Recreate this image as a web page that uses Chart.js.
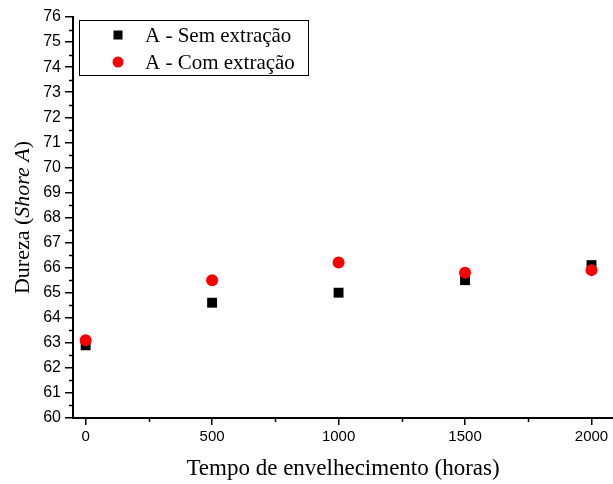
<!DOCTYPE html>
<html><head><meta charset="utf-8">
<script src="https://cdn.jsdelivr.net/npm/chart.js@4"></script>
<style>html,body{margin:0;padding:0;background:#fff}#wrap{width:613px;height:484px}</style>
</head><body><div id="wrap"><canvas id="c" width="613" height="484"></canvas></div>
<script>
const hours = [0, 500, 1000, 1500, 2000];
const semExtracao = [62.9, 64.6, 65.0, 65.5, 66.1];
const comExtracao = [63.1, 65.5, 66.2, 65.8, 65.9];
const seriesLabels = ['A - Sem extração', 'A - Com extração'];
const xTicks = [0, 500, 1000, 1500, 2000];
const xMinorTicks = [250, 750, 1250, 1750];
const yTicks = [60, 61, 62, 63, 64, 65, 66, 67, 68, 69, 70, 71, 72, 73, 74, 75, 76];
const yMinorTicks = [60.5, 61.5, 62.5, 63.5, 64.5, 65.5, 66.5, 67.5, 68.5, 69.5, 70.5, 71.5, 72.5, 73.5, 74.5, 75.5];
const xTitle = 'Tempo de envelhecimento (horas)';
const yTitleParts = [['Dureza (', false], ['Shore A', true], [')', false]];

const SERIF = '"Liberation Serif", "Times New Roman", serif';
const SANS = '"Liberation Sans", Arial, sans-serif';

const decor = {
  id: 'decor',
  afterDraw(chart) {
    const ctx = chart.ctx;
    const xs = chart.scales.x, ys = chart.scales.y;
    const area = chart.chartArea;
    ctx.save();
    ctx.strokeStyle = '#000';
    ctx.lineWidth = 1.5;
    ctx.beginPath();
    yMinorTicks.forEach(v => {
      const py = Math.round(ys.getPixelForValue(v)) + 0.5;
      ctx.moveTo(area.left - 4, py); ctx.lineTo(area.left, py);
    });
    xMinorTicks.forEach(v => {
      const px = Math.round(xs.getPixelForValue(v)) + 0.5;
      ctx.moveTo(px, area.bottom); ctx.lineTo(px, area.bottom + 4);
    });
    ctx.stroke();

    ctx.fillStyle = '#000';
    ctx.font = '23px ' + SERIF;
    ctx.textAlign = 'center';
    ctx.textBaseline = 'alphabetic';
    ctx.fillText(xTitle, (area.left + area.right) / 2, 475);

    ctx.save();
    ctx.translate(29, (area.top + area.bottom) / 2);
    ctx.rotate(-Math.PI / 2);
    let total = 0;
    const widths = yTitleParts.map(([t, it]) => {
      ctx.font = (it ? 'italic ' : '') + '22px ' + SERIF;
      const w = ctx.measureText(t).width; total += w; return w;
    });
    let x0 = -total / 2;
    ctx.textAlign = 'left';
    yTitleParts.forEach(([t, it], i) => {
      ctx.font = (it ? 'italic ' : '') + '22px ' + SERIF;
      ctx.fillText(t, x0, 0);
      x0 += widths[i];
    });
    ctx.restore();

    ctx.lineWidth = 1;
    ctx.strokeRect(79.5, 20.5, 229, 55);
    const ds = chart.data.datasets;
    const rows = [35, 62];
    ds.forEach((d, i) => {
      const cy = rows[i];
      ctx.fillStyle = d.backgroundColor;
      if (d.pointStyle === 'rect') {
        ctx.fillRect(118 - 4.5, cy - 4.5, 9, 9);
      } else {
        ctx.beginPath(); ctx.arc(118, cy, 5.5, 0, Math.PI * 2); ctx.fill();
      }
      ctx.fillStyle = '#000';
      ctx.font = '21px ' + SERIF;
      ctx.textAlign = 'left';
      ctx.textBaseline = 'middle';
      ctx.fillText(d.label, 145, cy + 1);
    });
    ctx.restore();
  }
};

new Chart(document.getElementById('c'), {
  type: 'scatter',
  data: {
    datasets: [
      { label: seriesLabels[0], data: hours.map((h, i) => ({ x: h, y: semExtracao[i] })),
        pointStyle: 'rect', pointRadius: 7, pointHoverRadius: 7, backgroundColor: '#000000', borderWidth: 0, order: 1 },
      { label: seriesLabels[1], data: hours.map((h, i) => ({ x: h, y: comExtracao[i] })),
        pointStyle: 'circle', pointRadius: 6, pointHoverRadius: 6, backgroundColor: '#ff0000', borderWidth: 0, order: 0 }
    ]
  },
  options: {
    responsive: false, devicePixelRatio: 1, animation: false,
    layout: { autoPadding: false, padding: { top: 17, right: 0, left: 0, bottom: 0 } },
    plugins: { legend: { display: false }, tooltip: { enabled: false } },
    scales: {
      x: {
        type: 'linear', min: -50, max: 2085,
        afterBuildTicks: s => { s.ticks = xTicks.map(v => ({ value: v })); },
        afterFit: s => { s.height = 66; s.paddingRight = 0; s.paddingLeft = 0; },
        grid: { drawOnChartArea: false, tickLength: 7, color: '#000', lineWidth: 1.5 },
        border: { color: '#000', width: 2 },
        ticks: { color: '#000', font: { family: SANS, size: 15 }, padding: 3, maxRotation: 0,
                 callback: v => String(v) }
      },
      y: {
        type: 'linear', min: 60, max: 76,
        afterBuildTicks: s => { s.ticks = yTicks.map(v => ({ value: v })); },
        afterFit: s => { s.width = 73; s.paddingTop = 0; s.paddingBottom = 0; },
        grid: { drawOnChartArea: false, tickLength: 8, color: '#000', lineWidth: 1.5 },
        border: { color: '#000', width: 2 },
        ticks: { color: '#000', font: { family: SANS, size: 16 }, padding: 4, callback: v => String(v) }
      }
    }
  },
  plugins: [decor]
});
</script></body></html>
